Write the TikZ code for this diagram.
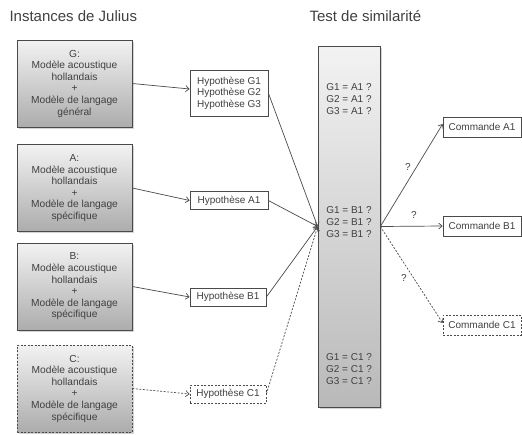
\documentclass[tikz,border=0pt]{standalone}
\usepackage{fontspec}
\setmainfont{Liberation Sans}
\usetikzlibrary{arrows.meta,shadows,calc}
\definecolor{txt}{HTML}{404040}
\definecolor{ln}{HTML}{4A4A4A}
\tikzset{
  src/.style={draw=ln, line width=0.7pt, top color=white!90!gray, bottom color=gray!65,
    minimum width=115pt, minimum height=87pt, align=center, inner sep=1pt,
    font=\fontsize{10.2}{11.6}\selectfont, text=txt,
    drop shadow={shadow xshift=1.5pt, shadow yshift=-1.5pt, opacity=0.35}},
  hyp/.style={draw=ln, line width=0.7pt, fill=white, align=left, inner sep=1pt,
    font=\fontsize{10}{11.5}\selectfont, text=txt, minimum height=18pt},
  cmd/.style={draw=ln, line width=0.7pt, fill=white, minimum width=78pt, minimum height=20pt,
    font=\fontsize{10}{11.5}\selectfont, text=txt, inner sep=1pt},
  col/.style={draw=ln, line width=0.7pt, top color=white!90!gray, bottom color=gray!55,
    minimum width=62pt, minimum height=361pt,
    drop shadow={shadow xshift=1.5pt, shadow yshift=-1.5pt, opacity=0.35}},
  coltxt/.style={align=left, font=\fontsize{10}{11.8}\selectfont, text=txt},
  ttl/.style={font=\fontsize{15}{17}\selectfont, text=txt, anchor=west},
  arr/.style={draw=ln, line width=0.7pt, -{Straight Barb[length=3.5pt,width=6pt]}},
  dsh/.style={arr, dashed, dash pattern=on 2pt off 1.5pt},
  q/.style={font=\fontsize{10}{11.5}\selectfont, text=txt}
}
\begin{document}
\begin{tikzpicture}[x=1pt,y=-1pt]
\useasboundingbox (0,0) rectangle (522,434);
\node[ttl] (t1) at (6,16) {Instances de Julius};
\node[ttl] (t2) at (306,16) {Test de similarité};

\node[src] (G) at (74.5,83.5) {G:\\Modèle acoustique\\hollandais\\+\\Modèle de langage\\général};
\node[src] (A) at (74.5,188) {A:\\Modèle acoustique\\hollandais\\+\\Modèle de langage\\spécifique};
\node[src] (B) at (74.5,286.5) {B:\\Modèle acoustique\\hollandais\\+\\Modèle de langage\\spécifique};
\node[src, dashed, dash pattern=on 2pt off 1.5pt] (C) at (74.5,388.5) {C:\\Modèle acoustique\\hollandais\\+\\Modèle de langage\\spécifique};

\node[hyp, minimum width=78pt, minimum height=46pt] (HG) at (229,93) {Hypothèse G1\\Hypothèse G2\\Hypothèse G3};
\node[hyp, minimum width=78pt] (HA) at (229,200.5) {Hypothèse A1};
\node[hyp, minimum width=76pt] (HB) at (228,297) {Hypothèse B1};
\node[hyp, minimum width=76pt, dashed, dash pattern=on 2pt off 1.5pt] (HC) at (228,394) {Hypothèse C1};

\node[col] (S) at (349,226.5) {};
\node[coltxt] (s1) at (349,99) {G1 = A1 ?\\G2 = A1 ?\\G3 = A1 ?};
\node[coltxt] (s2) at (349,222) {G1 = B1 ?\\G2 = B1 ?\\G3 = B1 ?};
\node[coltxt] (s3) at (349,369) {G1 = C1 ?\\G2 = C1 ?\\G3 = C1 ?};

\node[cmd] (CA) at (482,127) {Commande A1};
\node[cmd] (CB) at (482,226) {Commande B1};
\node[cmd, dashed, dash pattern=on 2pt off 1.5pt] (CC) at (482,325) {Commande C1};

\draw[arr] (G.east) -- ($(HG.west)+(0,-4)$);
\draw[arr] (A.east) -- (HA.west);
\draw[arr] (B.east) -- (HB.west);
\draw[dsh] (C.east) -- (HC.west);

\draw[arr] (HG.east) -- (S.west);
\draw[arr] (HA.east) -- (S.west);
\draw[arr] (HB.east) -- (S.west);
\draw[dsh] (HC.east) -- (S.west);

\draw[arr] (S.east) -- ($(CA.west)+(0,-3)$);
\draw[arr] (S.east) -- (CB.west);
\draw[dsh] (S.east) -- ($(CC.west)+(0,-2)$);

\node[q] (q1) at (408,167) {?};
\node[q] (q2) at (414,215) {?};
\node[q] (q3) at (404,278) {?};
\end{tikzpicture}
\end{document}
